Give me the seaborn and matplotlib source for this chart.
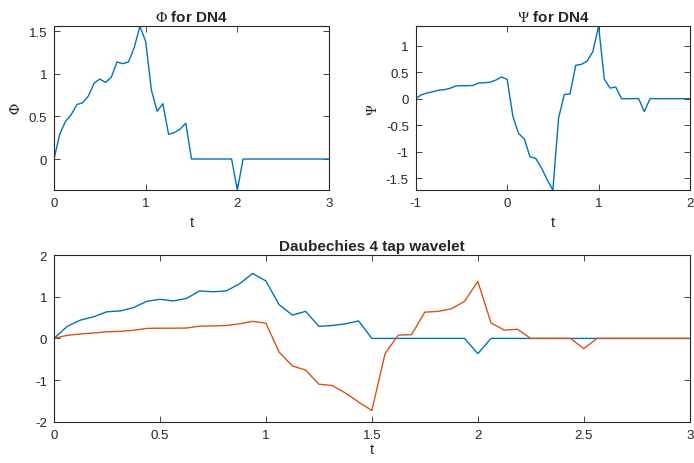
#!/usr/bin/env python3
import numpy as np
import matplotlib
matplotlib.use("Agg")
import matplotlib.pyplot as plt
import seaborn as sns

# DN4 scaling function and wavelet, sampled every 1/16
phi = [0, 0.29, 0.44, 0.52, 0.64, 0.66, 0.74, 0.89, 0.94, 0.90, 0.96, 1.14,
       1.12, 1.14, 1.31, 1.56, 1.38, 0.81, 0.56, 0.65, 0.29, 0.31, 0.35, 0.42,
       0, 0, 0, 0, 0, 0, 0, 0, -0.366, 0, 0, 0, 0, 0, 0, 0, 0, 0, 0, 0, 0, 0,
       0, 0, 0]
psi = [0, 0.075, 0.107, 0.13, 0.16, 0.17, 0.195, 0.24, 0.245, 0.245, 0.25,
       0.295, 0.30, 0.31, 0.35, 0.41, 0.365, -0.33, -0.66, -0.76, -1.10, -1.13,
       -1.31, -1.53, -1.73, -0.365, 0.08, 0.09, 0.63, 0.65, 0.71, 0.89, 1.37,
       0.37, 0.20, 0.22, 0, 0, 0, 0, -0.245, 0, 0, 0, 0, 0, 0, 0, 0]
step = 1 / 16
psi_start = -1

phi_ticks_x = [0, 1, 2, 3]
phi_ticks_y = [0, 0.5, 1, 1.5]
psi_ticks_x = [-1, 0, 1, 2]
psi_ticks_y = [-1.5, -1, -0.5, 0, 0.5, 1]
both_ticks_x = [0, 0.5, 1, 1.5, 2, 2.5, 3]
both_ticks_y = [-2, -1, 0, 1, 2]

sns.set_style("ticks")
plt.rcParams["font.family"] = ["Liberation Sans", "DejaVu Sans"]
plt.rcParams["mathtext.fontset"] = "stix"
plt.rcParams["axes.unicode_minus"] = False

blue = "#0072BD"
orange = "#D95319"
grey = "#262626"

t_phi = np.arange(len(phi)) * step
t_psi = psi_start + np.arange(len(psi)) * step


def lab(v):
    return ("%g" % v)


def style(ax, xt, yt):
    ax.set_xticks(xt)
    ax.set_xticklabels([lab(v) for v in xt])
    ax.set_yticks(yt)
    ax.set_yticklabels([lab(v) for v in yt])
    ax.tick_params(direction="in", top=True, right=True, length=4, width=0.6,
                   labelsize=9.5, colors=grey, pad=5)
    for s in ax.spines.values():
        s.set_visible(True)
        s.set_color(grey)
        s.set_linewidth(0.8)


fig = plt.figure(figsize=(6.94, 4.64), dpi=100)
ax1 = fig.add_axes([0.0778, 0.588, 0.3963, 0.3534])
ax2 = fig.add_axes([0.599, 0.588, 0.3953, 0.3534])
ax3 = fig.add_axes([0.0778, 0.089, 0.916, 0.359])

sns.lineplot(x=t_phi, y=phi, ax=ax1, color=blue, linewidth=1.0)
ax1.set_xlim(0, 3)
ax1.set_ylim(min(phi), max(phi))
style(ax1, phi_ticks_x, phi_ticks_y)
ax1.set_title(r"$\Phi$ for DN4", fontsize=11, fontweight="bold", pad=4)
ax1.set_xlabel("t", fontsize=10.5, color=grey)
ax1.set_ylabel(r"$\Phi$", fontsize=10.5, color=grey)

sns.lineplot(x=t_psi, y=psi, ax=ax2, color=blue, linewidth=1.0)
ax2.set_xlim(-1, 2)
ax2.set_ylim(min(psi), max(psi))
style(ax2, psi_ticks_x, psi_ticks_y)
ax2.set_title(r"$\Psi$ for DN4", fontsize=11, fontweight="bold", pad=4)
ax2.set_xlabel("t", fontsize=10.5, color=grey)
ax2.set_ylabel(r"$\Psi$", fontsize=10.5, color=grey)

sns.lineplot(x=t_phi, y=phi, ax=ax3, color=blue, linewidth=1.0)
sns.lineplot(x=t_phi, y=psi, ax=ax3, color=orange, linewidth=1.0)
ax3.set_xlim(0, 3)
ax3.set_ylim(-2, 2)
style(ax3, both_ticks_x, both_ticks_y)
ax3.set_title("Daubechies 4 tap wavelet", fontsize=11, fontweight="bold", pad=4)
ax3.set_xlabel("t", fontsize=10.5, color=grey, labelpad=1)

fig.savefig("out.png", dpi=100)
plt.close(fig)
